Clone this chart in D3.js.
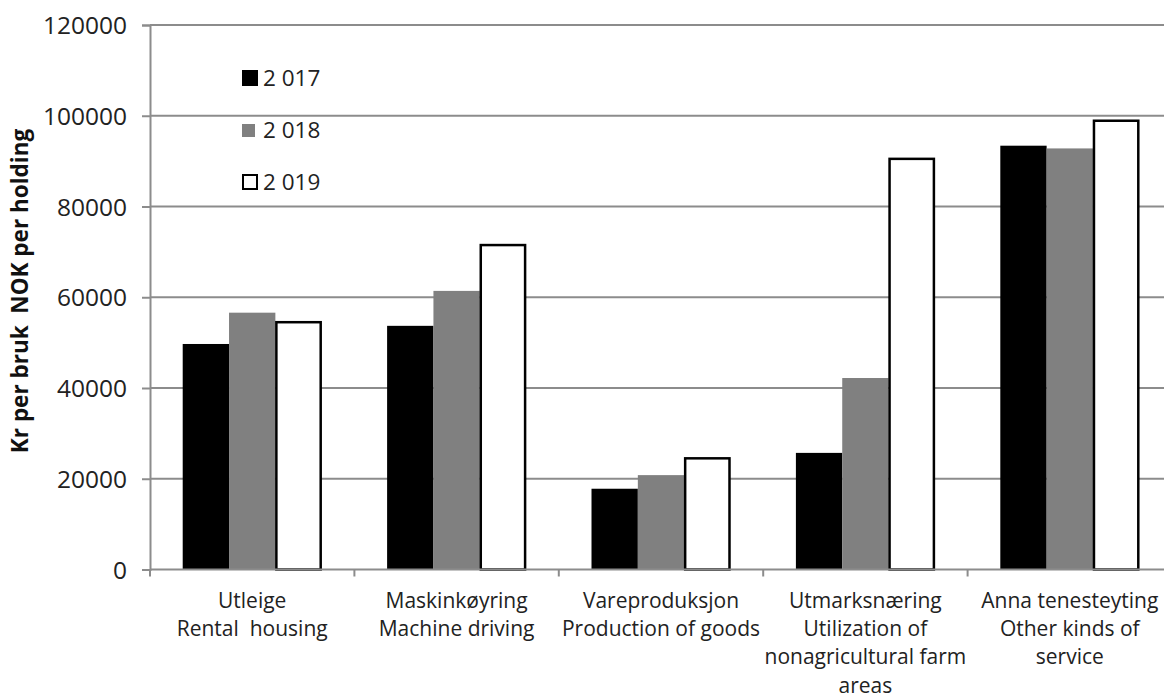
<!DOCTYPE html>
<html>
<head>
<meta charset="utf-8">
<script src="https://cdn.jsdelivr.net/npm/d3@7"></script>
<style>
  html, body { margin: 0; padding: 0; background: #fff; }
  svg { display: block; }
  text { font-family: "Open Sans", "Liberation Sans", sans-serif; }
</style>
</head>
<body>
<svg id="chart" width="1164" height="695"></svg>
<script>
const categories = [
  ["Utleige", "Rental  housing"],
  ["Maskinkøyring", "Machine driving"],
  ["Vareproduksjon", "Production of goods"],
  ["Utmarksnæring", "Utilization of", "nonagricultural farm", "areas"],
  ["Anna tenesteyting", "Other kinds of", "service"]
];
const seriesNames = ["2 017", "2 018", "2 019"];
const values2017 = [49700, 53700, 17800, 25700, 93400];
const values2018 = [56600, 61400, 20800, 42200, 92800];
const values2019 = [54500, 71500, 24500, 90500, 98900];
const yTicks = [0, 20000, 40000, 60000, 80000, 100000, 120000];
const yTitle = "Kr per bruk  NOK per holding";

(function () {
const series = [values2017, values2018, values2019];
const fills = ["#000000", "#808080", "#ffffff"];
const strokes = ["none", "none", "#000000"];

const svg = d3.select("#chart");
const mLeft = 150, mRight = 1172, mTop = 25, mBottom = 569.5;

const x0 = d3.scaleBand().domain(d3.range(categories.length)).range([mLeft, mRight]).paddingInner(0.32).paddingOuter(0.16);
const x1 = d3.scaleBand().domain(d3.range(series.length)).range([0, x0.bandwidth()]);
const y = d3.scaleLinear().domain([0, 120000]).range([mBottom, mTop]);

// gridlines
svg.append("g").selectAll("line").data(yTicks.filter(d => d > 0)).join("line")
  .attr("x1", mLeft).attr("x2", 1164)
  .attr("y1", d => y(d)).attr("y2", d => y(d))
  .attr("stroke", "#8c8c8c").attr("stroke-width", 2);

// bars
const groups = svg.append("g").selectAll("g").data(d3.range(categories.length)).join("g")
  .attr("transform", i => `translate(${x0(i)},0)`);
groups.selectAll("rect").data(i => series.map((s, k) => ({k, v: s[i]}))).join("rect")
  .attr("x", d => x1(d.k) + (d.k === 2 ? 1 : 0))
  .attr("width", d => x1.bandwidth() - (d.k === 2 ? 2 : 0))
  .attr("y", d => y(d.v))
  .attr("height", d => y(0) - y(d.v))
  .attr("fill", d => fills[d.k])
  .attr("stroke", d => strokes[d.k])
  .attr("stroke-width", 2.5);

// y axis
const yAxis = d3.axisLeft(y).tickValues(yTicks).tickSize(8).tickPadding(15).tickFormat(d3.format("d"));
const gy = svg.append("g").attr("transform", `translate(${mLeft},0)`).call(yAxis);
gy.select(".domain").attr("stroke", "#8c8c8c").attr("stroke-width", 2);
gy.selectAll(".tick line").attr("stroke", "#8c8c8c").attr("stroke-width", 2);
gy.selectAll(".tick text").attr("font-size", 24.5).attr("fill", "#222").attr("dy", "0.35em");

// x axis
const step = x0.step();
const catTicks = d3.range(categories.length + 1).map(i => mLeft + i * step);
const gx = svg.append("g");
gx.append("line").attr("x1", mLeft).attr("x2", 1164).attr("y1", mBottom).attr("y2", mBottom)
  .attr("stroke", "#8c8c8c").attr("stroke-width", 2);
gx.selectAll("line.t").data(catTicks).join("line").attr("class", "t")
  .attr("x1", d => d).attr("x2", d => d).attr("y1", mBottom).attr("y2", mBottom + 7)
  .attr("stroke", "#8c8c8c").attr("stroke-width", 2);
const labels = gx.selectAll("text").data(categories).join("text")
  .attr("x", (d, i) => x0(i) + x0.bandwidth() / 2)
  .attr("y", 608)
  .attr("text-anchor", "middle")
  .attr("font-size", 21)
  .attr("fill", "#222")
  .style("white-space", "pre");
labels.selectAll("tspan").data(d => d).join("tspan")
  .attr("x", function() { return d3.select(this.parentNode).attr("x"); })
  .attr("dy", (d, j) => j === 0 ? 0 : 28.2)
  .text(d => d);

// y title
svg.append("text")
  .attr("transform", `translate(28,291) rotate(-90)`)
  .attr("text-anchor", "middle")
  .attr("font-family", "Liberation Sans, Arial, sans-serif")
  .attr("font-weight", "bold")
  .attr("font-size", 22.5)
  .attr("fill", "#111")
  .style("white-space", "pre")
  .text(yTitle);

// legend
const legend = svg.append("g").selectAll("g").data(seriesNames).join("g")
  .attr("transform", (d, i) => `translate(242,${78 + i * 52})`);
legend.append("rect")
  .attr("x", (d, i) => i === 2 ? 1 : 0)
  .attr("y", (d, i) => i === 1 ? -6 : (i === 2 ? -7 : -8))
  .attr("width", (d, i) => i === 1 ? 13 : (i === 2 ? 14 : 16))
  .attr("height", (d, i) => i === 1 ? 13 : (i === 2 ? 14 : 16))
  .attr("fill", (d, i) => fills[i])
  .attr("stroke", (d, i) => strokes[i])
  .attr("stroke-width", 2);
legend.append("text")
  .attr("x", 21).attr("y", 0).attr("dy", "0.35em")
  .attr("font-size", 22.5).attr("fill", "#222")
  .text(d => d);
})();
</script>
</body>
</html>
